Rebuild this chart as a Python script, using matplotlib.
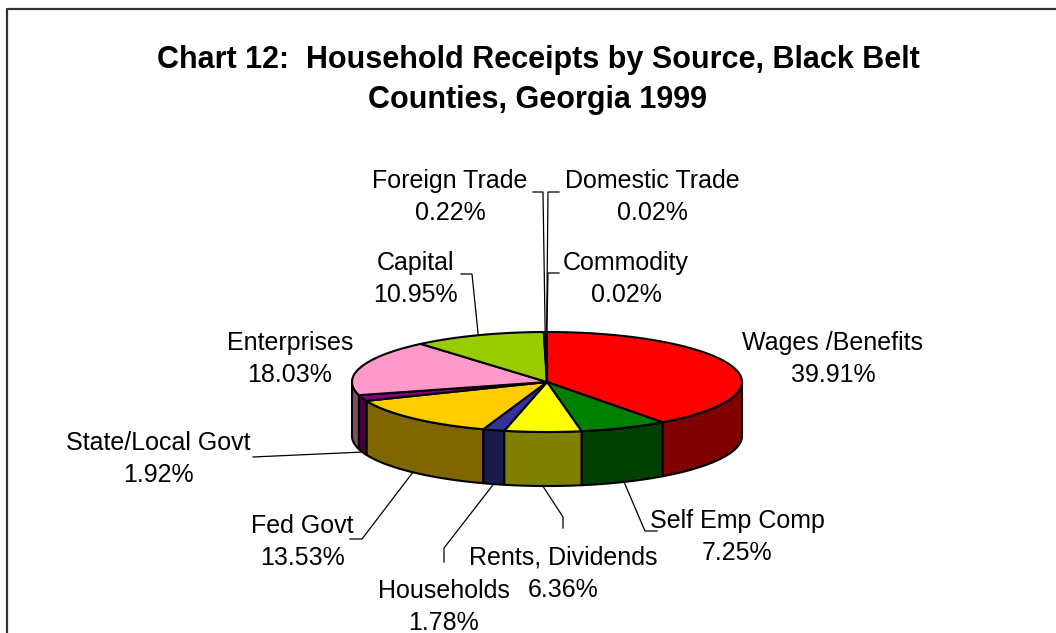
import matplotlib.pyplot as plt
import numpy as np
from matplotlib.colors import to_rgb
from matplotlib.patches import Polygon

plt.rcParams["font.family"] = ["Liberation Sans", "DejaVu Sans"]

labels = ["Wages /Benefits", "Self Emp Comp", "Rents, Dividends", "Households", "Fed Govt",
          "State/Local Govt", "Enterprises", "Capital", "Foreign Trade", "Domestic Trade", "Commodity"]
shares = [39.91, 7.25, 6.36, 1.78, 13.53, 1.92, 18.03, 10.95, 0.22, 0.02, 0.02]
pct_text = ["39.91%", "7.25%", "6.36%", "1.78%", "13.53%", "1.92%", "18.03%", "10.95%", "0.22%", "0.02%", "0.02%"]

colors = ["#FF0000", "#008000", "#FFFF00", "#333399", "#FFCC00", "#800080",
          "#FF99CC", "#99CC00", "#660066", "#0066CC", "#CCCCFF"]

# label layout (pixel coords, baseline of first line) and leader elbows
label_pos = [(833, 350), (737, 528), (563, 565), (444, 598), (302, 533), (158, 450),
             (290, 350), (415, 270), (450, 188), (652, 188), (626, 270)]
leaders = [None, [(657, 531), (645, 531)], [(563, 528), (563, 517)], [(444, 562), (444, 548)],
           [(350, 539), (362, 539)], [(253, 457)], None, [(461, 274), (472, 274)],
           [(533, 192), (543, 192)], [(559, 192), (548, 192)], [(559, 273), (548, 273)]]

W, H = 1056, 633
cx, cy = 547, 382
rx, ry = 195, 50
depth = 54


def rim(t, dy=0.0):
    t = np.radians(np.atleast_1d(t))
    return np.column_stack([cx + rx * np.cos(t), cy - ry * np.sin(t) + dy])


fig = plt.figure(figsize=(W / 100, H / 100), dpi=100)
ax = fig.add_axes([0, 0, 1, 1])
ax.set_xlim(0, W)
ax.set_ylim(H, 0)
ax.axis("off")

total = sum(shares)
cum = np.concatenate([[0], np.cumsum(shares)])
t_start = 90 - 360 * cum[:-1] / total
t_end = 90 - 360 * cum[1:] / total

# side walls (front half only)
for i in range(len(shares)):
    lo, hi = max(t_end[i], -180), min(t_start[i], 0)
    if lo >= hi:
        continue
    ts = np.linspace(lo, hi, 80)
    pts = np.vstack([rim(ts), rim(ts[::-1], depth)])
    side = tuple(c * 0.5 for c in to_rgb(colors[i]))
    ax.add_patch(Polygon(pts, closed=True, facecolor=side, edgecolor="black",
                         linewidth=1.5, joinstyle="round"))

# top face
for i in range(len(shares)):
    ts = np.linspace(t_start[i], t_end[i], max(3, int(abs(t_start[i] - t_end[i])) + 2))
    pts = np.vstack([[cx, cy], rim(ts)])
    ax.add_patch(Polygon(pts, closed=True, facecolor=colors[i], edgecolor="black",
                         linewidth=1.5, joinstyle="round"))

# labels and leader lines
for i in range(len(shares)):
    x, y = label_pos[i]
    ax.text(x, y, labels[i], ha="center", va="baseline", fontsize=18)
    ax.text(x, y + 32, pct_text[i], ha="center", va="baseline", fontsize=18)
    if leaders[i] is None:
        continue
    mid = (t_start[i] + t_end[i]) / 2
    anchor = rim(mid, depth if np.sin(np.radians(mid)) < 0 else 0)[0]
    path = np.array(leaders[i] + [tuple(anchor)])
    ax.plot(path[:, 0], path[:, 1], color="black", linewidth=0.9)

ax.text(538, 68, "Chart 12:  Household Receipts by Source, Black Belt",
        ha="center", va="baseline", fontsize=22, fontweight="bold")
ax.text(538, 108, "Counties, Georgia 1999", ha="center", va="baseline", fontsize=22, fontweight="bold")

# chart area border (left and top edges visible)
ax.plot([7, 7, W + 5], [H + 5, 8.5, 8.5], color="#333333", linewidth=1.6)

fig.savefig("out.png", dpi=100)
